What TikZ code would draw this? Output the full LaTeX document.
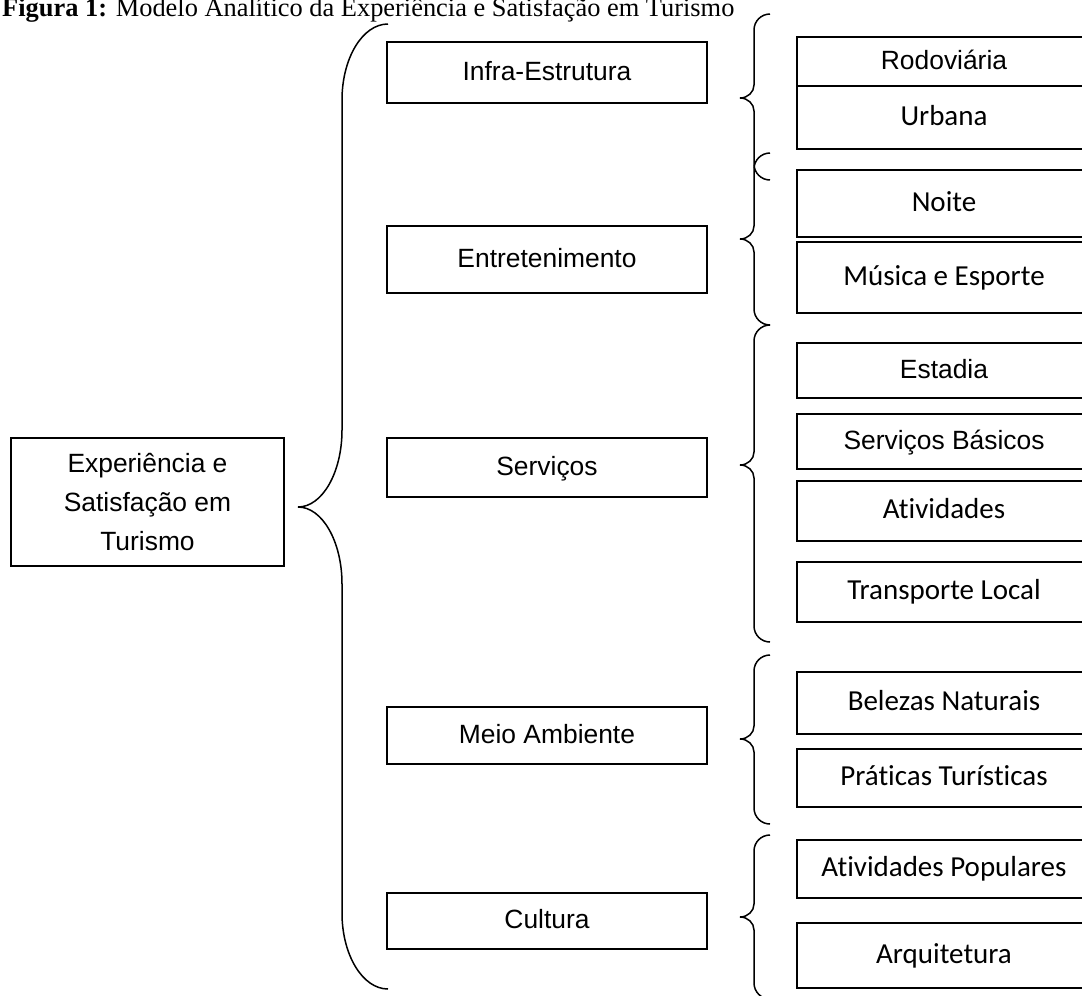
\documentclass[tikz,border=0pt]{standalone}
\usepackage{fontspec}
\setmainfont{Liberation Serif}
\newfontfamily\arialf{Liberation Sans}
\newfontfamily\calibf[Ligatures=NoCommon]{Carlito}
\newcommand\curlyB[8]{% E V P T M B re rt
 \draw[brace] (#1,#4) .. controls ({#1-0.552*(#1-#2)},#4) and (#2,{#4+0.448*#7}) .. (#2,{#4+#7})
 -- (#2,{#5-#8}) .. controls (#2,{#5-0.448*#8}) and ({#3+0.552*(#2-#3)},#5) .. (#3,#5)
 .. controls ({#3+0.552*(#2-#3)},#5) and (#2,{#5+0.448*#8}) .. (#2,{#5+#8})
 -- (#2,{#6-#7}) .. controls (#2,{#6-0.448*#7}) and ({#1-0.552*(#1-#2)},#6) .. (#1,#6);}
\tikzset{
 basebox/.style={draw, line width=1.8pt, fill=white, inner sep=0pt},
 box/.style={basebox, text height=20pt, text depth=5pt},
 arialtxt/.style={font=\arialf\fontsize{26.4}{30}\selectfont},
 calibtxt/.style={font=\calibf\fontsize{29}{33}\selectfont},
 mbox/.style={box, arialtxt, minimum width=320pt},
 rbox/.style={box, minimum width=294pt},
 ra/.style={rbox, arialtxt},
 rc/.style={rbox, calibtxt},
 brace/.style={line width=1.5pt},
}
\begin{document}
\begin{tikzpicture}[x=1pt,y=-1pt]
\useasboundingbox (0,0) rectangle (1082,996);
\fill[white] (0,0) rectangle (1082,996);
\clip (0,0) rectangle (1082,996);
% caption
\node[anchor=base west, inner sep=0pt, font=\fontsize{26.4}{30}\selectfont] (cap) at (2,16)
  {\textbf{Figura 1:} Modelo Analítico da Experiência e Satisfação em Turismo};
% main box
\node[basebox, minimum width=273pt, minimum height=128pt, align=center,
  font=\arialf\fontsize{26.4}{39}\selectfont] (main) at (147.5,502)
  {Experiência e\\Satisfação em\\Turismo};
% big brace
\curlyB{388}{342}{298}{24}{507}{989}{76}{77}
% middle boxes
\node[mbox, minimum height=61pt] (infra) at (547,72.5) {Infra-Estrutura};
\node[mbox, minimum height=67pt] (entre) at (547,259.5) {Entretenimento};
\node[mbox, minimum height=59pt] (serv) at (547,467.5) {Serviços};
\node[mbox, minimum height=57pt] (meio) at (547,735.5) {Meio Ambiente};
\node[mbox, minimum height=56pt] (cult) at (547,921) {Cultura};
% right braces
\curlyB{770}{754}{740}{14}{98}{180}{16}{13}
\curlyB{770}{754}{740}{153}{239}{325}{16}{13}
\curlyB{770}{754}{740}{325}{465}{642}{16}{13}
\curlyB{770}{754}{740}{655}{739}{824}{16}{13}
\curlyB{770}{754}{740}{835}{917}{999}{16}{13}
% right boxes
\node[rbox, minimum height=61pt] (rod) at (944,67.5) {};
\node[arialtxt, inner sep=0pt, text height=20pt, text depth=5pt] (rodtxt) at (944,61.5) {Rodoviária};
\node[rc, minimum height=63pt] (urb) at (944,117.5) {Urbana};
\node[rc, minimum height=67pt] (noite) at (944,203.5) {Noite};
\node[rc, minimum height=71pt] (musica) at (944,277.5) {Música e Esporte};
\node[ra, minimum height=55pt] (estadia) at (944,370.5) {Estadia};
\node[ra, minimum height=55pt] (basicos) at (944,441.5) {Serviços Básicos};
\node[rc, minimum height=60pt] (ativ) at (944,511) {Atividades};
\node[rc, minimum height=60pt] (transp) at (944,592) {Transporte Local};
\node[rc, minimum height=62pt] (belezas) at (944,703) {Belezas Naturais};
\node[rc, minimum height=58pt] (praticas) at (944,778) {Práticas Turísticas};
\node[rc, minimum height=58pt] (popul) at (944,869) {Atividades Populares};
\node[rc, minimum height=65pt] (arq) at (944,955.5) {Arquitetura};
\end{tikzpicture}
\end{document}
